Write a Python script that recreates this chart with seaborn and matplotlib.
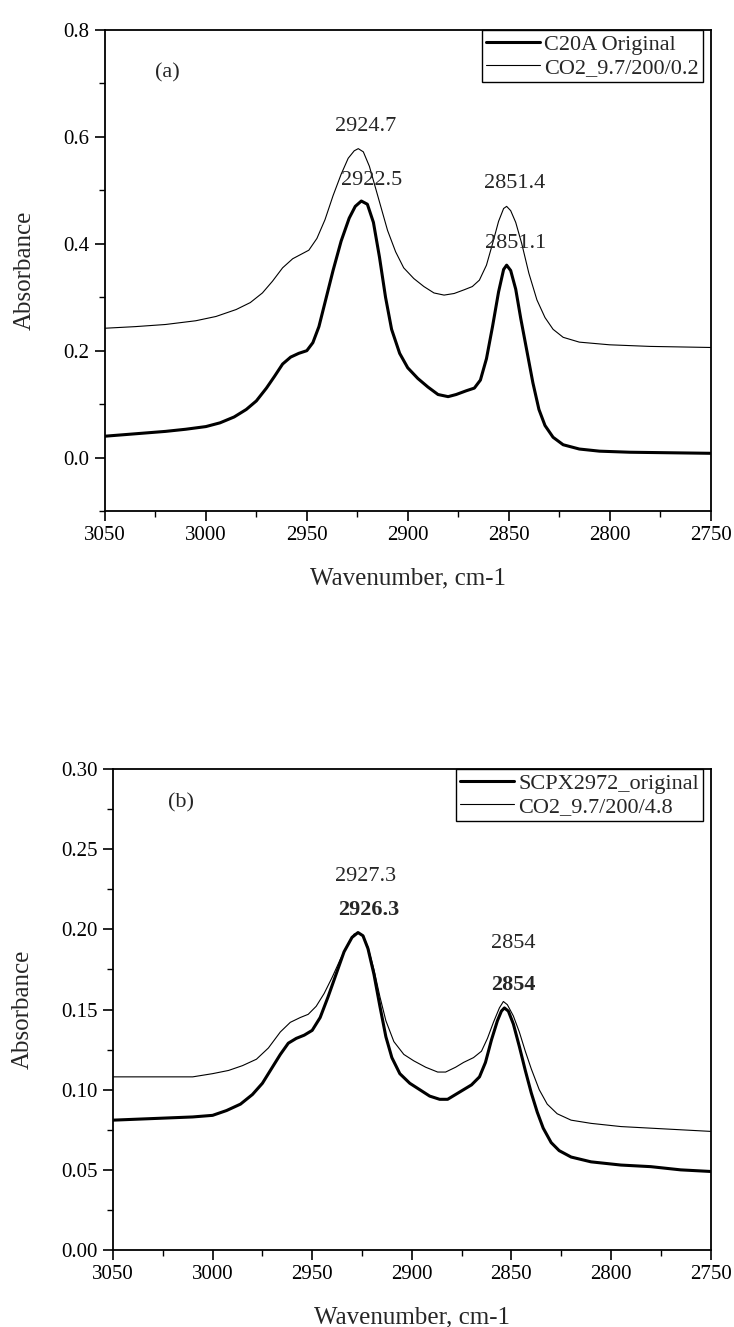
import numpy as np
import pandas as pd
import seaborn as sns
import matplotlib
matplotlib.use("Agg")
import matplotlib.pyplot as plt
from matplotlib.ticker import MultipleLocator, FormatStrFormatter

# ---------------- data ----------------
a_wn_orig = [3050, 3040, 3030, 3020, 3010, 3000, 2993, 2986, 2980, 2975, 2970, 2966, 2962, 2958,
             2954, 2950, 2947, 2944, 2941, 2937, 2933, 2929, 2926, 2923, 2920, 2917, 2914, 2911,
             2908, 2904, 2900, 2895, 2890, 2885, 2880, 2876, 2871, 2867, 2864, 2861, 2858, 2855,
             2852.5, 2851, 2849, 2846.5, 2844, 2841, 2838, 2835, 2832, 2828, 2823, 2815, 2805,
             2790, 2770, 2750]
a_abs_orig = [0.040, 0.043, 0.046, 0.049, 0.053, 0.058, 0.065, 0.076, 0.090, 0.106, 0.130, 0.152, 0.175, 0.188,
              0.195, 0.200, 0.215, 0.245, 0.290, 0.350, 0.405, 0.448, 0.470, 0.480, 0.474, 0.440, 0.375, 0.300,
              0.240, 0.195, 0.168, 0.148, 0.132, 0.118, 0.114, 0.118, 0.125, 0.130, 0.145, 0.185, 0.245, 0.310,
              0.352, 0.360, 0.350, 0.315, 0.260, 0.200, 0.140, 0.090, 0.060, 0.038, 0.024, 0.016, 0.012,
              0.010, 0.009, 0.008]

a_wn_co2 = [3050, 3035, 3020, 3005, 2995, 2985, 2978, 2972, 2967, 2962, 2957, 2953, 2949, 2945,
            2941, 2937, 2933, 2929.5, 2926.5, 2924.5, 2922, 2919, 2916, 2913, 2910, 2906, 2902,
            2897, 2892, 2887, 2882, 2877, 2872, 2868, 2864.5, 2861, 2858, 2855, 2852.5, 2851,
            2849, 2846.5, 2843.5, 2840, 2836, 2832, 2828, 2823, 2815, 2800, 2780, 2750]
a_abs_co2 = [0.242, 0.245, 0.249, 0.256, 0.264, 0.277, 0.290, 0.308, 0.330, 0.355, 0.372, 0.380, 0.388, 0.410,
             0.445, 0.490, 0.530, 0.560, 0.574, 0.578, 0.572, 0.545, 0.505, 0.465, 0.425, 0.385, 0.355,
             0.335, 0.320, 0.308, 0.304, 0.307, 0.314, 0.320, 0.332, 0.360, 0.400, 0.442, 0.466, 0.470,
             0.462, 0.440, 0.400, 0.345, 0.295, 0.262, 0.240, 0.225, 0.216, 0.211, 0.208, 0.206]

b_wn_orig = [3050, 3030, 3010, 3000, 2993, 2986, 2980, 2975, 2970, 2966, 2962, 2958, 2954, 2950,
             2946, 2942, 2938, 2934, 2930, 2927, 2924.5, 2922, 2919, 2916, 2913, 2910, 2906, 2901,
             2896, 2891, 2886, 2882, 2878, 2874, 2870, 2866, 2863, 2860, 2857, 2855, 2853.5, 2851.5,
             2849, 2846, 2843, 2840, 2837, 2834, 2830, 2826, 2820, 2810, 2795, 2780, 2765, 2750]
b_abs_orig = [0.081, 0.082, 0.083, 0.084, 0.087, 0.091, 0.097, 0.104, 0.114, 0.122, 0.129, 0.132, 0.134, 0.137,
              0.145, 0.158, 0.172, 0.186, 0.195, 0.198, 0.196, 0.188, 0.172, 0.152, 0.133, 0.120, 0.110, 0.104,
              0.100, 0.096, 0.094, 0.094, 0.097, 0.100, 0.103, 0.108, 0.117, 0.131, 0.143, 0.149, 0.151, 0.149,
              0.141, 0.127, 0.112, 0.098, 0.086, 0.076, 0.067, 0.062, 0.058, 0.055, 0.053, 0.052, 0.050, 0.049]

b_wn_co2 = [3050, 3030, 3010, 3000, 2992, 2985, 2978, 2972, 2966, 2961, 2956, 2952, 2948, 2944,
            2940, 2936, 2932, 2929, 2927, 2924.5, 2922, 2919, 2916, 2913, 2909, 2904, 2899, 2893,
            2887, 2883, 2878, 2874, 2869, 2865, 2862, 2859, 2856, 2854, 2852, 2849, 2846, 2843,
            2840, 2836, 2832, 2827, 2820, 2810, 2795, 2780, 2765, 2750]
b_abs_co2 = [0.108, 0.108, 0.108, 0.110, 0.112, 0.115, 0.119, 0.126, 0.136, 0.142, 0.145, 0.147, 0.152, 0.160,
             0.170, 0.181, 0.191, 0.197, 0.198, 0.196, 0.189, 0.175, 0.158, 0.143, 0.130, 0.122, 0.118, 0.114,
             0.111, 0.111, 0.114, 0.117, 0.120, 0.124, 0.132, 0.142, 0.151, 0.155, 0.153, 0.146, 0.136, 0.124,
             0.113, 0.100, 0.091, 0.085, 0.081, 0.079, 0.077, 0.076, 0.075, 0.074]

a_labels = ["C20A Original", "CO2_9.7/200/0.2"]
b_labels = ["SCPX2972_original", "CO2_9.7/200/4.8"]

a_notes = [("(a)", 3019, 0.72, "normal"), ("2924.7", 2921, 0.62, "normal"),
           ("2922.5", 2918, 0.518, "normal"), ("2851.4", 2847, 0.512, "normal"),
           ("2851.1", 2846.5, 0.40, "normal")]
b_notes = [("(b)", 3016, 0.279, "normal"), ("2927.3", 2923, 0.233, "normal"),
           ("2926.3", 2921.5, 0.212, "bold"), ("2854", 2849, 0.191, "normal"),
           ("2854", 2849, 0.165, "bold")]

# ---------------- style ----------------
sns.set_style("ticks")
plt.rcParams["font.family"] = ["Liberation Serif", "DejaVu Serif"]
TICK_FS = 15
LABEL_FS = 18
NOTE_FS = 16
LEG_FS = 16

fig = plt.figure(figsize=(7.34, 13.27), dpi=100)
ax_a = fig.add_axes([0.143, 0.6149, 0.825, 0.3625])
ax_b = fig.add_axes([0.154, 0.0580, 0.814, 0.3625])


def draw(ax, wn1, ab1, wn2, ab2, labels, notes, ylim, ymaj, ymin, yfmt):
    d1 = pd.DataFrame({"wn": wn1, "abs": ab1})
    d2 = pd.DataFrame({"wn": wn2, "abs": ab2})
    sns.lineplot(data=d1, x="wn", y="abs", ax=ax, color="black", lw=2.2,
                 sort=False, estimator=None, label=labels[0])
    sns.lineplot(data=d2, x="wn", y="abs", ax=ax, color="black", lw=0.8,
                 sort=False, estimator=None, label=labels[1])
    ax.set_xlim(3050, 2750)
    ax.set_ylim(*ylim)
    ax.xaxis.set_major_locator(MultipleLocator(50))
    ax.xaxis.set_minor_locator(MultipleLocator(25))
    ax.yaxis.set_major_locator(MultipleLocator(ymaj))
    ax.yaxis.set_minor_locator(MultipleLocator(ymin))
    ax.yaxis.set_major_formatter(FormatStrFormatter(yfmt))
    ax.tick_params(axis="both", which="major", direction="out", length=7, width=1.2,
                   labelsize=TICK_FS, color="black", labelcolor="black", pad=4)
    ax.tick_params(axis="both", which="minor", direction="out", length=4, width=1.0,
                   color="black")
    for s in ax.spines.values():
        s.set_linewidth(1.3)
        s.set_color("black")
        s.set_visible(True)
    ax.set_xlabel("Wavenumber, cm-1", fontsize=LABEL_FS, labelpad=16)
    ax.set_ylabel("Absorbance", fontsize=LABEL_FS, labelpad=20)
    for txt, x, y, w in notes:
        ax.text(x, y, txt, fontsize=NOTE_FS, fontweight=w, ha="center", va="center")
    leg = ax.legend(loc="upper right", bbox_to_anchor=(0.988, 1.0), borderaxespad=0,
                    fontsize=LEG_FS, frameon=True, fancybox=False, edgecolor="black",
                    handlelength=2.4, handletextpad=0.2, labelspacing=0.1,
                    borderpad=0.2, framealpha=1)
    leg.get_frame().set_linewidth(1.0)


draw(ax_a, a_wn_orig, a_abs_orig, a_wn_co2, a_abs_co2, a_labels, a_notes,
     (-0.1, 0.8), 0.2, 0.1, "%.1f")
draw(ax_b, b_wn_orig, b_abs_orig, b_wn_co2, b_abs_co2, b_labels, b_notes,
     (0.0, 0.30), 0.05, 0.025, "%.2f")

fig.savefig("out.png", dpi=100, facecolor="white")
